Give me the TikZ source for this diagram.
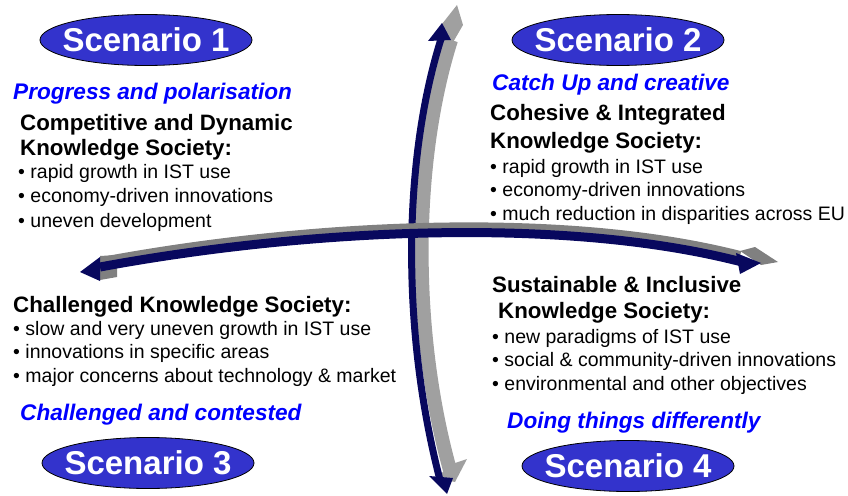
\documentclass[tikz,border=0pt]{standalone}
\usepackage{fontspec}
\setmainfont{Liberation Sans}
\usepackage{tikz}
\usetikzlibrary{shapes.geometric}
\definecolor{navy}{RGB}{8,8,94}
\definecolor{scenblue}{RGB}{51,51,204}
\definecolor{sidegray}{RGB}{160,160,160}
\definecolor{darkside}{RGB}{128,128,128}
\tikzset{
    scen/.style={ellipse,draw=black,line width=0.8pt,fill=scenblue,minimum width=212pt,
      minimum height=51pt,inner xsep=-20pt,inner ysep=-6pt,text=white,
      font=\fontsize{33}{36}\selectfont\bfseries},
    motto/.style={anchor=base west,inner sep=0pt,text=blue,
      font=\fontsize{22.6}{24}\selectfont\bfseries\itshape},
    heading/.style={anchor=base west,inner sep=0pt,
      font=\fontsize{22.3}{24}\selectfont\bfseries},
    bul/.style={anchor=base west,inner sep=0pt,
      font=\fontsize{19.5}{22}\selectfont},
}

\begin{document}
\begin{tikzpicture}[x=1pt,y=-1pt]
    \useasboundingbox (0,0) rectangle (848,495);
    % vertical axis
    \draw[sidegray,line width=14pt] (451,40)
      .. controls (413,160) and (411,330) .. (450,470);
    \fill[sidegray] (442,24) -- (457,5) -- (463,25) -- (452,44) -- (448,40) -- cycle;
    \fill[sidegray] (436,478) -- (452,464) -- (467,459) -- (455,482) -- cycle;
    \draw[navy,line width=7pt] (441,39)
      .. controls (403,160) and (401,330) .. (440,480);
    \fill[navy] (428,41) -- (442,23) -- (451,40) -- cycle;
    \fill[navy] (429,476) -- (453,478) -- (447,494) -- cycle;
    % horizontal axis
    \draw[darkside,line width=10pt] (102,262)
      .. controls (300,225) and (560,210) .. (740,256);
    \fill[darkside] (100,256) -- (117,255) -- (117,277) -- (100,280) -- cycle;
    \fill[darkside] (740,251) -- (755,247) -- (778,262) -- (761,265) -- cycle;
    \draw[navy,line width=9pt] (100,267)
      .. controls (300,230) and (560,215) .. (742,262);
    \fill[navy] (100,257) -- (80,272) -- (100,281) -- cycle;
    \fill[navy] (736,253) -- (761,263) -- (740,274) -- cycle;
    % scenario 1
    \node[scen] (s1) at (146,40) {Scenario 1};
    \node[motto] (s1motto) at (13,99) {Progress and polarisation};
    \node[heading] (s1heada) at (20,130) {Competitive and Dynamic};
    \node[heading] (s1headb) at (20,155) {Knowledge Society:};
    \foreach \t [count=\i] in {rapid growth in IST use,
      economy-driven innovations,uneven development}
      \node[bul] (s1b\i) at (18,{178+24.5*(\i-1)}) {• \t};
    % scenario 2
    \node[scen] (s2) at (618,40) {Scenario 2};
    \node[motto] (s2motto) at (492,90) {Catch Up and creative};
    \node[heading] (s2heada) at (490,120) {Cohesive \& Integrated};
    \node[heading] (s2headb) at (490,148) {Knowledge Society:};
    \foreach \t [count=\i] in {rapid growth in IST use,
      economy-driven innovations,much reduction in disparities across EU}
      \node[bul] (s2b\i) at (490,{173+23.5*(\i-1)}) {• \t};
    % scenario 3
    \node[scen] (s3) at (148,463) {Scenario 3};
    \node[heading] (s3head) at (13,312) {Challenged Knowledge Society:};
    \foreach \t [count=\i] in {slow and very uneven growth in IST use,
      innovations in specific areas,major concerns about technology \& market}
      \node[bul] (s3b\i) at (13,{335+23.5*(\i-1)}) {• \t};
    \node[motto] (s3motto) at (20,420) {Challenged and contested};
    % scenario 4
    \node[scen] (s4) at (628,466) {Scenario 4};
    \node[heading] (s4heada) at (492,292) {Sustainable \& Inclusive};
    \node[heading] (s4headb) at (498,318) {Knowledge Society:};
    \foreach \t [count=\i] in {new paradigms of IST use,
      social \& community-driven innovations,environmental and other objectives}
      \node[bul] (s4b\i) at (492,{343+23.5*(\i-1)}) {• \t};
    \node[motto] (s4motto) at (507,428) {Doing things differently};
\end{tikzpicture}
\end{document}
